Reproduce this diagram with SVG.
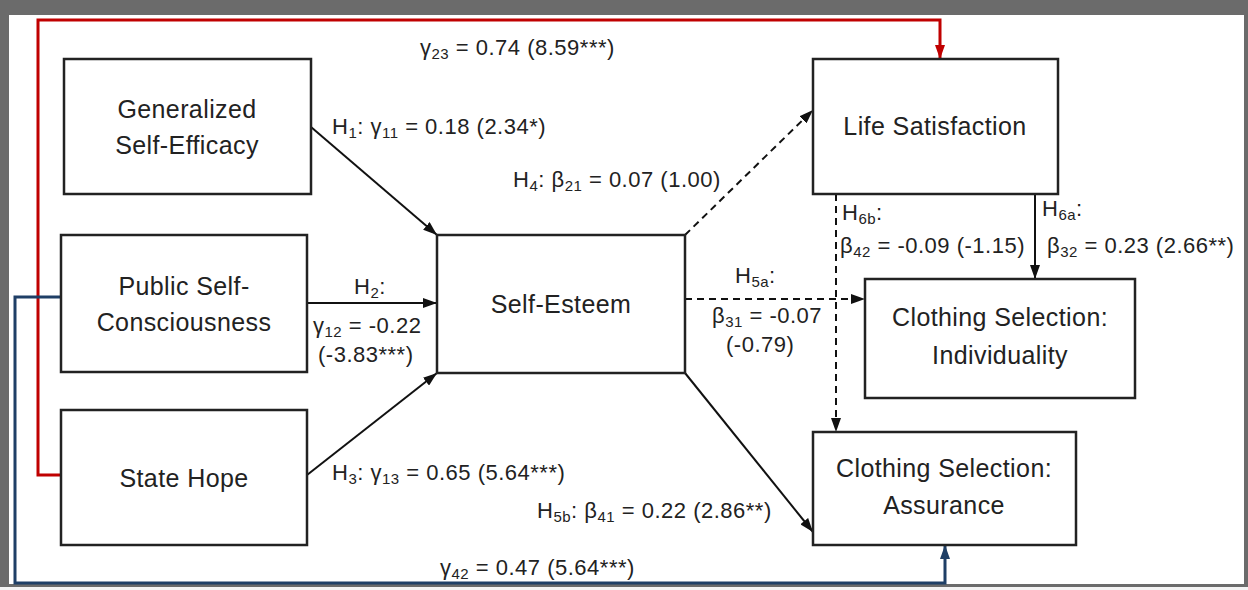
<svg xmlns="http://www.w3.org/2000/svg" width="1248" height="590" viewBox="0 0 1248 590">
<style>
.node rect{fill:#fff;stroke:#222;stroke-width:2.5}
.lbl{font-family:"Liberation Sans",Arial,sans-serif;font-size:25px;letter-spacing:0.4px;fill:#222;text-anchor:middle}
.el{font-family:"Liberation Sans",Arial,sans-serif;font-size:22px;letter-spacing:0.5px;fill:#222}
.sub{font-size:15px}
.c{fill:none;stroke:#111;stroke-width:2}
.d{stroke-dasharray:7,5}
</style>
<defs>
<marker id="ab" viewBox="0 0 14 10" refX="14" refY="5" markerWidth="14" markerHeight="10" markerUnits="userSpaceOnUse" orient="auto"><path d="M0,0 L14,5 L0,10 Z" fill="#111"/></marker>
<marker id="ar" viewBox="0 0 14 10" refX="14" refY="5" markerWidth="14" markerHeight="10" markerUnits="userSpaceOnUse" orient="auto"><path d="M0,0 L14,5 L0,10 Z" fill="#c00000"/></marker>
<marker id="an" viewBox="0 0 14 10" refX="14" refY="5" markerWidth="14" markerHeight="10" markerUnits="userSpaceOnUse" orient="auto"><path d="M0,0 L14,5 L0,10 Z" fill="#1f3f66"/></marker>
</defs>
<rect x="0" y="0" width="1248" height="590" fill="#6b6b6b"/>
<rect x="9" y="15" width="1235" height="569" fill="#fff"/>
<rect x="0" y="587" width="1248" height="3" fill="#f4f4f4"/>

<g id="connectors">
<path class="c" d="M311,127 L437,235" marker-end="url(#ab)"/>
<path class="c" d="M307,303 L437,303" marker-end="url(#ab)"/>
<path class="c" d="M307,475 L437,373" marker-end="url(#ab)"/>
<path class="c d" d="M685,235 L813,110" marker-end="url(#ab)"/>
<path class="c d" d="M685,299 L865,299" marker-end="url(#ab)"/>
<path class="c" d="M685,373 L813,532" marker-end="url(#ab)"/>
<path class="c d" d="M836,194 L836,432" marker-end="url(#ab)"/>
<path class="c" d="M1035,194 L1035,279" marker-end="url(#ab)"/>
<path d="M61,475 L38,475 L38,20 L940,20 L940,59" fill="none" stroke="#c00000" stroke-width="3" marker-end="url(#ar)"/>
<path d="M61,297 L15,297 L15,583 L945,583 L945,545" fill="none" stroke="#1f3f66" stroke-width="3" marker-end="url(#an)"/>
</g>

<g id="n-gse" class="node"><rect x="64" y="59" width="247" height="135"/>
<text class="lbl" x="187" y="118">Generalized</text><text class="lbl" x="187" y="154">Self-Efficacy</text></g>
<g id="n-psc" class="node"><rect x="61" y="235" width="246" height="137"/>
<text class="lbl" x="184" y="295">Public Self-</text><text class="lbl" x="184" y="331">Consciousness</text></g>
<g id="n-sh" class="node"><rect x="61" y="410" width="246" height="135"/>
<text class="lbl" x="184" y="487">State Hope</text></g>
<g id="n-se" class="node"><rect x="437" y="235" width="248" height="138"/>
<text class="lbl" x="561" y="313">Self-Esteem</text></g>
<g id="n-ls" class="node"><rect x="813" y="59" width="245" height="135"/>
<text class="lbl" x="935" y="135">Life Satisfaction</text></g>
<g id="n-csi" class="node"><rect x="865" y="279" width="270" height="119"/>
<text class="lbl" x="1000" y="326">Clothing Selection:</text><text class="lbl" x="1000" y="364">Individuality</text></g>
<g id="n-csa" class="node"><rect x="813" y="432" width="263" height="113"/>
<text class="lbl" x="944" y="477">Clothing Selection:</text><text class="lbl" x="944" y="514">Assurance</text></g>

<g id="labels">
<text class="el" x="420" y="55">γ<tspan class="sub" dy="4">23</tspan><tspan dy="-4"> = 0.74 (8.59***)</tspan></text>
<text class="el" x="332" y="134">H<tspan class="sub" dy="4">1</tspan><tspan dy="-4">: γ</tspan><tspan class="sub" dy="4">11</tspan><tspan dy="-4"> = 0.18 (2.34*)</tspan></text>
<text class="el" x="513" y="187">H<tspan class="sub" dy="4">4</tspan><tspan dy="-4">: β</tspan><tspan class="sub" dy="4">21</tspan><tspan dy="-4"> = 0.07 (1.00)</tspan></text>
<text class="el" x="354" y="294">H<tspan class="sub" dy="4">2</tspan><tspan dy="-4">:</tspan></text>
<text class="el" x="313" y="333">γ<tspan class="sub" dy="4">12</tspan><tspan dy="-4"> = -0.22</tspan></text>
<text class="el" x="318" y="362">(-3.83***)</text>
<text class="el" x="735" y="283">H<tspan class="sub" dy="4">5a</tspan><tspan dy="-4">:</tspan></text>
<text class="el" x="712" y="323">β<tspan class="sub" dy="4">31</tspan><tspan dy="-4"> = -0.07</tspan></text>
<text class="el" x="726" y="352">(-0.79)</text>
<text class="el" x="842" y="220">H<tspan class="sub" dy="4">6b</tspan><tspan dy="-4">:</tspan></text>
<text class="el" x="840" y="253">β<tspan class="sub" dy="4">42</tspan><tspan dy="-4"> = -0.09 (-1.15)</tspan></text>
<text class="el" x="1042" y="216">H<tspan class="sub" dy="4">6a</tspan><tspan dy="-4">:</tspan></text>
<text class="el" x="1047" y="253">β<tspan class="sub" dy="4">32</tspan><tspan dy="-4"> = 0.23 (2.66**)</tspan></text>
<text class="el" x="332" y="480">H<tspan class="sub" dy="4">3</tspan><tspan dy="-4">: γ</tspan><tspan class="sub" dy="4">13</tspan><tspan dy="-4"> = 0.65 (5.64***)</tspan></text>
<text class="el" x="537" y="518">H<tspan class="sub" dy="4">5b</tspan><tspan dy="-4">: β</tspan><tspan class="sub" dy="4">41</tspan><tspan dy="-4"> = 0.22 (2.86**)</tspan></text>
<text class="el" x="440" y="575">γ<tspan class="sub" dy="4">42</tspan><tspan dy="-4"> = 0.47 (5.64***)</tspan></text>
</g>
</svg>
